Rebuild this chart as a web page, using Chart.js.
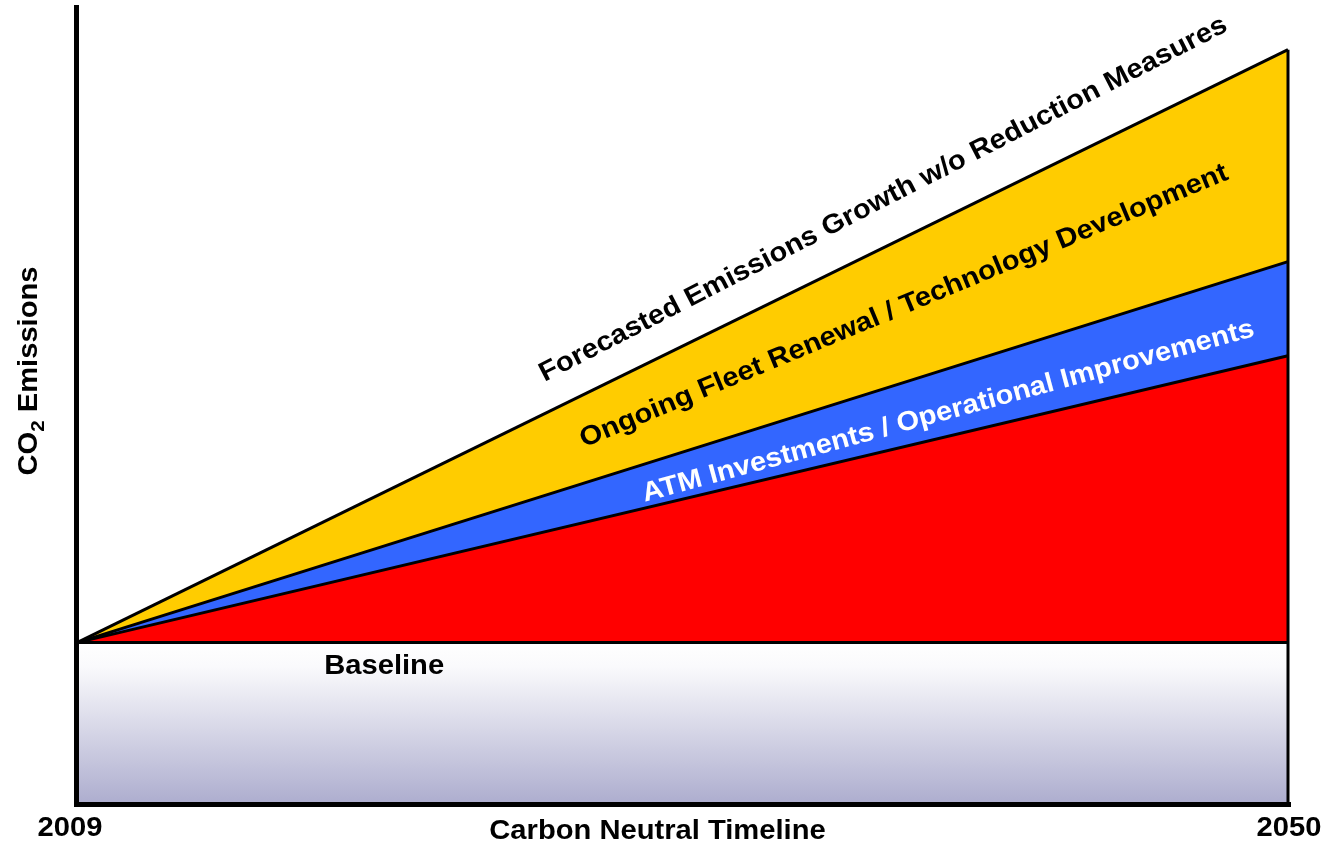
<!DOCTYPE html>
<html>
<head>
<meta charset="utf-8">
<script src="https://cdn.jsdelivr.net/npm/chart.js@4.4.1/dist/chart.umd.min.js"></script>
<style>
  html, body { margin: 0; padding: 0; background: #ffffff; }
  #wrap { width: 1322px; height: 848px; }
</style>
</head>
<body>
<div id="wrap"><canvas id="c" width="1322" height="848"></canvas></div>
<script>
// ---- data ----
const years = [2009, 2050];
const baseline = [100, 100];
const withAllMeasures = [100, 280];     // red band top
const withAtm = [100, 339];             // blue band top
const forecastNoMeasures = [100, 472];  // yellow band top
const seriesNames = ['Baseline', 'Remaining', 'ATM Investments / Operational Improvements', 'Ongoing Fleet Renewal / Technology Development'];
const tickLabels = ['2009', '2050'];
const xTitle = 'Carbon Neutral Timeline';
const yTitleMain = 'CO';
const yTitleSub = '2';
const yTitleRest = ' Emissions';

// band labels: text, anchor year, anchor value (center), angle (deg), colour
const bandLabelText = ['Forecasted Emissions Growth w/o Reduction Measures', 'Ongoing Fleet Renewal / Technology Development', 'ATM Investments / Operational Improvements', 'Baseline'];
const bandLabelYear = [2036.3, 2037.0, 2038.5, 2019.4];
const bandLabelValue = [378, 311, 245, 85];
const bandLabelAngle = [-27.2, -22.6, -15.2, 0];
const bandLabelColor = ['#000000', '#000000', '#ffffff', '#000000'];

const FONT = '"Liberation Sans", Arial, Helvetica, sans-serif';
const STRETCH = 1.08;

function pts(arr) { return arr.map((v, i) => ({ x: years[i], y: v })); }

function drawText(ctx, text, px, py, angleDeg, size, color, align) {
  ctx.save();
  ctx.translate(px, py);
  ctx.rotate(angleDeg * Math.PI / 180);
  ctx.scale(STRETCH, 1);
  ctx.fillStyle = color;
  ctx.textAlign = align || 'center';
  ctx.textBaseline = 'middle';
  ctx.font = 'bold ' + size + 'px ' + FONT;
  ctx.fillText(text, 0, 0);
  ctx.restore();
}

const overlay = {
  id: 'overlay',
  afterDatasetsDraw(chart) {
    const { ctx, chartArea: a, scales: { x, y } } = chart;
    ctx.save();
    // right edge line
    ctx.strokeStyle = '#000';
    ctx.lineWidth = 3;
    ctx.beginPath();
    ctx.moveTo(x.getPixelForValue(years[1]), y.getPixelForValue(forecastNoMeasures[1]));
    ctx.lineTo(x.getPixelForValue(years[1]), y.getPixelForValue(0));
    ctx.stroke();
    // axes
    ctx.lineWidth = 5;
    ctx.lineCap = 'butt';
    ctx.beginPath();
    ctx.moveTo(a.left - 0.5, a.top);
    ctx.lineTo(a.left - 0.5, a.bottom + 2.5);
    ctx.lineTo(a.right + 3, a.bottom + 2.5);
    ctx.stroke();

    // band labels
    for (let i = 0; i < bandLabelText.length; i++) {
      drawText(ctx, bandLabelText[i], x.getPixelForValue(bandLabelYear[i]), y.getPixelForValue(bandLabelValue[i]),
        bandLabelAngle[i], 27, bandLabelColor[i]);
    }

    // x ticks and title
    drawText(ctx, tickLabels[0], x.getPixelForValue(years[0]) - 7, 829, 0, 27, '#000');
    drawText(ctx, tickLabels[1], x.getPixelForValue(years[1]) + 1, 829, 0, 27, '#000');
    drawText(ctx, xTitle, (a.left + a.right) / 2 - 25, 832, 0, 27, '#000');

    // y title with subscript
    ctx.save();
    ctx.translate(30, 371);
    ctx.rotate(-Math.PI / 2);
    ctx.scale(STRETCH, 1);
    ctx.fillStyle = '#000';
    ctx.font = 'bold 27px ' + FONT;
    const w1 = ctx.measureText(yTitleMain).width;
    ctx.font = 'bold 19px ' + FONT;
    const w2 = ctx.measureText(yTitleSub).width;
    ctx.font = 'bold 27px ' + FONT;
    const w3 = ctx.measureText(yTitleRest).width;
    let sx = -(w1 + w2 + w3) / 2;
    ctx.textAlign = 'left';
    ctx.textBaseline = 'middle';
    ctx.fillText(yTitleMain, sx, 0);
    ctx.font = 'bold 19px ' + FONT;
    ctx.fillText(yTitleSub, sx + w1, 9);
    ctx.font = 'bold 27px ' + FONT;
    ctx.fillText(yTitleRest, sx + w1 + w2, 0);
    ctx.restore();
    ctx.restore();
  }
};

new Chart(document.getElementById('c'), {
  type: 'line',
  data: {
    datasets: [
      {
        label: seriesNames[0],
        data: pts(baseline),
        borderColor: '#000', borderWidth: 3, pointRadius: 0,
        fill: 'origin',
        backgroundColor(context) {
          const ch = context.chart; const a = ch.chartArea;
          if (!a) return '#dddde8';
          const yb = ch.scales.y;
          const g = ch.ctx.createLinearGradient(0, yb.getPixelForValue(baseline[0]), 0, yb.getPixelForValue(0));
          g.addColorStop(0, '#ffffff');
          g.addColorStop(0.15, '#fafafc');
          g.addColorStop(1, '#aeaecf');
          return g;
        },
        tension: 0, clip: false
      },
      {
        label: seriesNames[1], data: pts(withAllMeasures),
        borderColor: '#000', borderWidth: 3, pointRadius: 0,
        fill: '-1', backgroundColor: '#ff0000', tension: 0, clip: false
      },
      {
        label: seriesNames[2], data: pts(withAtm),
        borderColor: '#000', borderWidth: 3, pointRadius: 0,
        fill: '-1', backgroundColor: '#3366ff', tension: 0, clip: false
      },
      {
        label: seriesNames[3], data: pts(forecastNoMeasures),
        borderColor: '#000', borderWidth: 3, pointRadius: 0,
        fill: '-1', backgroundColor: '#ffcc00', tension: 0, clip: false
      }
    ]
  },
  options: {
    responsive: false,
    animation: false,
    layout: { padding: { left: 77, right: 34, top: 5, bottom: 46 } },
    plugins: { legend: { display: false }, tooltip: { enabled: false } },
    scales: {
      x: { type: 'linear', min: 2009, max: 2050, display: false },
      y: { type: 'linear', min: 0, max: 500, display: false }
    }
  },
  plugins: [overlay]
});
</script>
</body>
</html>
